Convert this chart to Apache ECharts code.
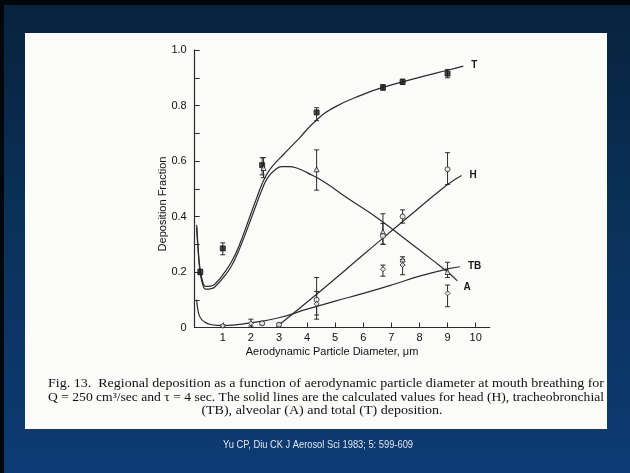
<!DOCTYPE html>
<html>
<head>
<meta charset="utf-8">
<script src="https://cdn.jsdelivr.net/npm/echarts@6/dist/echarts.min.js"></script>
<style>
  html, body { margin: 0; padding: 0; }
  #slide {
    position: relative; width: 630px; height: 473px; overflow: hidden;
    background: linear-gradient(180deg, #07223d 0%, #0a3158 45%, #0c3b74 100%);
  }
  #frameTop { position: absolute; left: 0; top: 0; width: 630px; height: 5px; background: #02070d; }
  #frameLeft { position: absolute; left: 0; top: 0; width: 4px; height: 473px; background: #02070d; }
  #panel { position: absolute; left: 25px; top: 33px; width: 582px; height: 396px; background: #fbfbfa; }
  #chart { position: absolute; left: 0; top: 0; width: 630px; height: 473px; }
</style>
</head>
<body>
<div id="slide">
  <div id="frameTop"></div>
  <div id="frameLeft"></div>
  <div id="panel"></div>
  <div id="chart"></div>
</div>
<script>
// Axis ticks and labels
const xTickValues = [1, 2, 3, 4, 5, 6, 7, 8, 9, 10];
const yTickLabels = ['0', '0.2', '0.4', '0.6', '0.8', '1.0'];

// Calculated deposition curves, [diameter (um), fraction]
const totalCurve = [
  [0.07, 0.37], [0.12, 0.29], [0.18, 0.22], [0.26, 0.175], [0.4, 0.148], [0.6, 0.15],
  [0.8, 0.165], [1.0, 0.19], [1.3, 0.235], [1.6, 0.3], [2.0, 0.41], [2.2, 0.465],
  [2.4, 0.518], [2.6, 0.558], [2.8, 0.585], [3.05, 0.612], [3.3, 0.638], [3.7, 0.68],
  [4.34, 0.748], [5.0, 0.795], [6.0, 0.84], [6.6, 0.862], [7.4, 0.885], [8.2, 0.907],
  [9.0, 0.927], [9.56, 0.942]
];
const alveolarCurve = [
  [0.07, 0.36], [0.12, 0.28], [0.18, 0.21], [0.26, 0.165], [0.4, 0.138], [0.6, 0.14],
  [0.8, 0.155], [1.0, 0.178], [1.3, 0.22], [1.6, 0.285], [2.0, 0.39], [2.2, 0.445],
  [2.4, 0.498], [2.6, 0.54], [2.85, 0.567], [3.1, 0.58], [3.35, 0.58], [3.7, 0.572],
  [4.0, 0.558], [4.6, 0.525], [5.5, 0.462], [6.5, 0.395], [7.5, 0.318], [8.5, 0.24],
  [9.0, 0.2], [9.35, 0.168]
];
const tbCurve = [
  [0.07, 0.1], [0.12, 0.06], [0.2, 0.035], [0.35, 0.02], [0.6, 0.01], [1.0, 0.007],
  [2.0, 0.017], [3.0, 0.035], [4.0, 0.066], [5.0, 0.095], [6.0, 0.123], [7.0, 0.153],
  [8.0, 0.185], [9.0, 0.211], [9.44, 0.219]
];
const headCurve = [
  [2.92, 0.003], [4.34, 0.12], [6.0, 0.262], [7.5, 0.39], [9.0, 0.515], [9.5, 0.548]
];

// Measurements, [diameter, mean, low, high]
const totalObs = [
  [0.2, 0.2, 0.19, 0.21], [1.0, 0.285, 0.262, 0.305], [2.4, 0.585, 0.55, 0.612],
  [4.34, 0.775, 0.745, 0.792], [6.7, 0.865, 0.855, 0.875], [7.4, 0.885, 0.876, 0.895],
  [9.0, 0.915, 0.9, 0.93]
];
const alveolarObs = [
  [2.45, 0.575, 0.54, 0.612], [4.34, 0.57, 0.495, 0.64], [6.7, 0.345, 0.3, 0.41],
  [7.4, 0.245, 0.225, 0.255], [9.0, 0.2, 0.18, 0.235]
];
const headObs = [
  [2.4, 0.015, 0.01, 0.02], [3.0, 0.01, 0.005, 0.015], [4.34, 0.1, 0.03, 0.18],
  [6.7, 0.33, 0.3, 0.375], [7.4, 0.4, 0.376, 0.424], [9.0, 0.57, 0.515, 0.63]
];
const tbObs = [
  [1.0, 0.006, 0.002, 0.01], [2.0, 0.015, 0.005, 0.03], [4.34, 0.085, 0.045, 0.13],
  [6.7, 0.21, 0.185, 0.225], [7.4, 0.225, 0.19, 0.245], [9.0, 0.123, 0.075, 0.153]
];

const ink = '#2c2c2c';
const axisFont = '"Liberation Sans", Arial, sans-serif';
const serifFont = '"Liberation Serif", "Times New Roman", serif';

function errorBars(params, api) {
  const x = api.value(0);
  const lo = api.coord([x, api.value(2)]);
  const hi = api.coord([x, api.value(3)]);
  const w = 2.5;
  const st = { stroke: ink, lineWidth: 1 };
  return {
    type: 'group',
    children: [
      { type: 'line', shape: { x1: lo[0], y1: lo[1], x2: hi[0], y2: hi[1] }, style: st },
      { type: 'line', shape: { x1: lo[0] - w, y1: lo[1], x2: lo[0] + w, y2: lo[1] }, style: st },
      { type: 'line', shape: { x1: hi[0] - w, y1: hi[1], x2: hi[0] + w, y2: hi[1] }, style: st }
    ]
  };
}

function curve(name, data, label, offset) {
  return {
    name, type: 'line', data, showSymbol: false, smooth: 0.5,
    lineStyle: { color: ink, width: 1.2 }, z: 3,
    endLabel: {
      show: true, formatter: label, color: '#1a1a1a', fontSize: 10, fontWeight: 'bold',
      fontFamily: axisFont, distance: 6, offset: offset
    }
  };
}
function errSeries(data) {
  return { type: 'custom', data, renderItem: errorBars, encode: { x: 0, y: 1 }, z: 4, silent: true };
}
function pointSeries(data, symbol, filled) {
  return {
    type: 'scatter', data: data.map(d => [d[0], d[1]]), symbol, symbolSize: 5, z: 5,
    itemStyle: { color: filled ? '#1a1a1a' : '#fbfbfa', borderColor: '#1a1a1a', borderWidth: 1 }
  };
}

// Fit a text line to a target width by horizontal scaling
const measureCtx = document.createElement('canvas').getContext('2d');
function widthOf(text, font) { measureCtx.font = font; return measureCtx.measureText(text).width; }

const capFont = '12.5px ' + serifFont;
const cap1 = 'Fig. 13.  Regional deposition as a function of aerodynamic particle diameter at mouth breathing for';
const cap2 = 'Q = 250 cm\u00b3/sec and \u03c4 = 4 sec. The solid lines are the calculated values for head (H), tracheobronchial';
const cap3 = '(TB), alveolar (A) and total (T) deposition.';
const s1 = 556 / widthOf(cap1, capFont);
const s2 = 556 / widthOf(cap2, capFont);
const citeFont = '10.5px ' + axisFont;
const cite = 'Yu CP, Diu CK J Aerosol Sci 1983; 5: 599-609';
const sCite = 190 / widthOf(cite, citeFont);

const chart = echarts.init(document.getElementById('chart'), null, { renderer: 'canvas' });
chart.setOption({
  animation: false,
  backgroundColor: 'transparent',
  grid: { left: 194.7, top: 50, width: 295, height: 277.5 },
  xAxis: {
    type: 'value', min: 0, max: 10.5,
    axisLine: { show: true, onZero: false, lineStyle: { color: ink, width: 1.2 } },
    axisTick: { show: true, inside: true, length: 5, customValues: xTickValues, lineStyle: { color: ink } },
    axisLabel: {
      show: true, customValues: xTickValues, margin: 5, color: '#111', fontSize: 11,
      fontFamily: axisFont
    },
    splitLine: { show: false }
  },
  yAxis: {
    type: 'value', min: 0, max: 1, interval: 0.1,
    axisLine: { show: true, lineStyle: { color: ink, width: 1.2 } },
    axisTick: { show: true, inside: true, length: 5, lineStyle: { color: ink } },
    axisLabel: {
      margin: 8, color: '#111', fontSize: 11, fontFamily: axisFont,
      formatter: v => {
        const k = Math.round(v * 10);
        return k % 2 === 0 ? yTickLabels[k / 2] : '';
      }
    },
    splitLine: { show: false }
  },
  series: [
    curve('T', totalCurve, 'T', [2, -1]),
    curve('A', alveolarCurve, 'A', [0, 6]),
    curve('TB', tbCurve, 'TB', [2, 0]),
    curve('H', headCurve, 'H', [2, 0]),
    errSeries(totalObs), errSeries(alveolarObs), errSeries(headObs), errSeries(tbObs),
    pointSeries(totalObs, 'rect', true),
    pointSeries(alveolarObs, 'triangle', false),
    pointSeries(headObs, 'circle', false),
    pointSeries(tbObs, 'diamond', false)
  ],
  graphic: [
    {
      type: 'text', x: 163, y: 204, rotation: Math.PI / 2,
      style: {
        text: 'Deposition Fraction', font: '11px ' + axisFont, fill: '#111',
        textAlign: 'center', textVerticalAlign: 'middle'
      }
    },
    {
      type: 'text', x: 332, y: 352,
      style: {
        text: 'Aerodynamic Particle Diameter, \u03bcm', font: '11px ' + axisFont, fill: '#111',
        textAlign: 'center', textVerticalAlign: 'middle'
      }
    },
    {
      type: 'text', x: 48, y: 384, scaleX: s1,
      style: { text: cap1, font: capFont, fill: '#111', textAlign: 'left', textVerticalAlign: 'middle' }
    },
    {
      type: 'text', x: 48, y: 397.5, scaleX: s2,
      style: { text: cap2, font: capFont, fill: '#111', textAlign: 'left', textVerticalAlign: 'middle' }
    },
    {
      type: 'text', x: 322, y: 411, scaleX: s1,
      style: { text: cap3, font: capFont, fill: '#111', textAlign: 'center', textVerticalAlign: 'middle' }
    },
    {
      type: 'text', x: 318, y: 445, scaleX: sCite,
      style: { text: cite, font: citeFont, fill: '#dfe5ee', textAlign: 'center', textVerticalAlign: 'middle' }
    }
  ]
});
</script>
</body>
</html>
